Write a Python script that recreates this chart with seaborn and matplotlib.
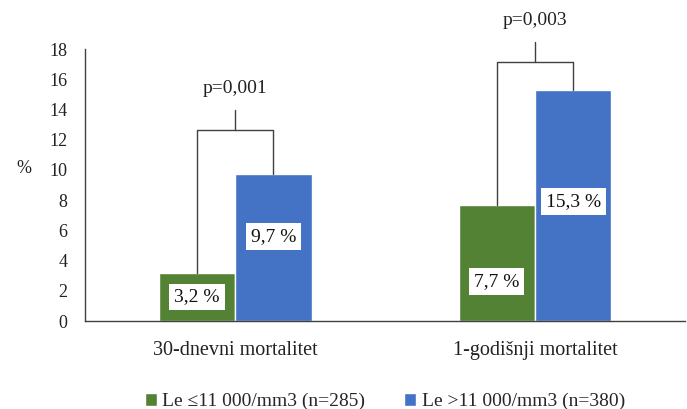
import matplotlib

matplotlib.use("Agg")
import matplotlib.pyplot as plt
import pandas as pd
import seaborn as sns

CATEGORIES = ["30-dnevni mortalitet", "1-godišnji mortalitet"]
GROUPS = ["Le \u226411 000/mm3 (n=285)", "Le >11 000/mm3 (n=380)"]
LOW_LE = [3.2, 7.7]
HIGH_LE = [9.7, 15.3]
P_VALUES = ["p=0,001", "p=0,003"]

COLORS = ["#548235", "#4472c4"]
SPINE = "#404040"
FONT = ["Liberation Serif", "DejaVu Serif"]

# layout: label heights inside bars, bracket heights (in % units)
LABEL_Y = [[1.6, 2.6], [5.6, 7.9]]
BRACKET_Y = [12.65, 17.15]
STUB = 1.35

df = pd.DataFrame(
    {
        "category": CATEGORIES * 2,
        "group": [GROUPS[0]] * 2 + [GROUPS[1]] * 2,
        "value": LOW_LE + HIGH_LE,
    }
)

sns.set_theme(style="white")
plt.rcParams["font.family"] = FONT

fig = plt.figure(figsize=(6.87, 4.09), dpi=100)
ax = fig.add_axes([0.124, 0.215, 0.873, 0.665])

sns.barplot(
    data=df,
    x="category",
    y="value",
    hue="group",
    hue_order=GROUPS,
    order=CATEGORIES,
    palette=COLORS,
    width=0.51,
    saturation=1,
    ax=ax,
)

ax.set_ylim(0, 18)
ax.set_xlim(-0.5, 1.5)
ax.set_yticks(range(0, 19, 2))
ax.set_xlabel("")
ax.set_ylabel("%", rotation=0, fontsize=13, color="#222222", labelpad=18, y=0.53)
ax.tick_params(axis="y", length=0, pad=13, labelsize=13, labelcolor="#222222")
ax.tick_params(axis="x", length=0, pad=14, labelsize=14.5, labelcolor="#222222")
for lab in ax.get_xticklabels() + ax.get_yticklabels():
    lab.set_family(FONT)

sns.despine(ax=ax)
for side in ["left", "bottom"]:
    ax.spines[side].set_color(SPINE)
    ax.spines[side].set_linewidth(1.0)

# value labels
for gi, container in enumerate(ax.containers):
    for ci, bar in enumerate(container):
        cx = bar.get_x() + bar.get_width() / 2
        ax.text(
            cx,
            LABEL_Y[gi][ci],
            f"{bar.get_height():.1f}".replace(".", ",") + " %",
            ha="center",
            va="center",
            fontsize=14,
            color="#111111",
            bbox=dict(facecolor="white", edgecolor="none", pad=3.5),
        )

# significance brackets
for ci in range(len(CATEGORIES)):
    b1 = ax.containers[0][ci]
    b2 = ax.containers[1][ci]
    x1 = b1.get_x() + b1.get_width() / 2
    x2 = b2.get_x() + b2.get_width() / 2
    top = BRACKET_Y[ci]
    kw = dict(color=SPINE, lw=1.0, clip_on=False)
    ax.plot([x1, x1, x2, x2], [b1.get_height(), top, top, b2.get_height()], **kw)
    xm = (x1 + x2) / 2
    ax.plot([xm, xm], [top, top + STUB], **kw)
    ax.text(xm, top + STUB + 1.4, P_VALUES[ci], ha="center", va="center",
            fontsize=14, color="#222222", clip_on=False)

ax.legend(
    loc="upper center",
    bbox_to_anchor=(0.5, -0.2),
    ncol=2,
    frameon=False,
    fontsize=14,
    handlelength=0.6,
    handleheight=0.6,
    handletextpad=0.3,
    columnspacing=2.0,
)

fig.savefig("out.png", dpi=100)
